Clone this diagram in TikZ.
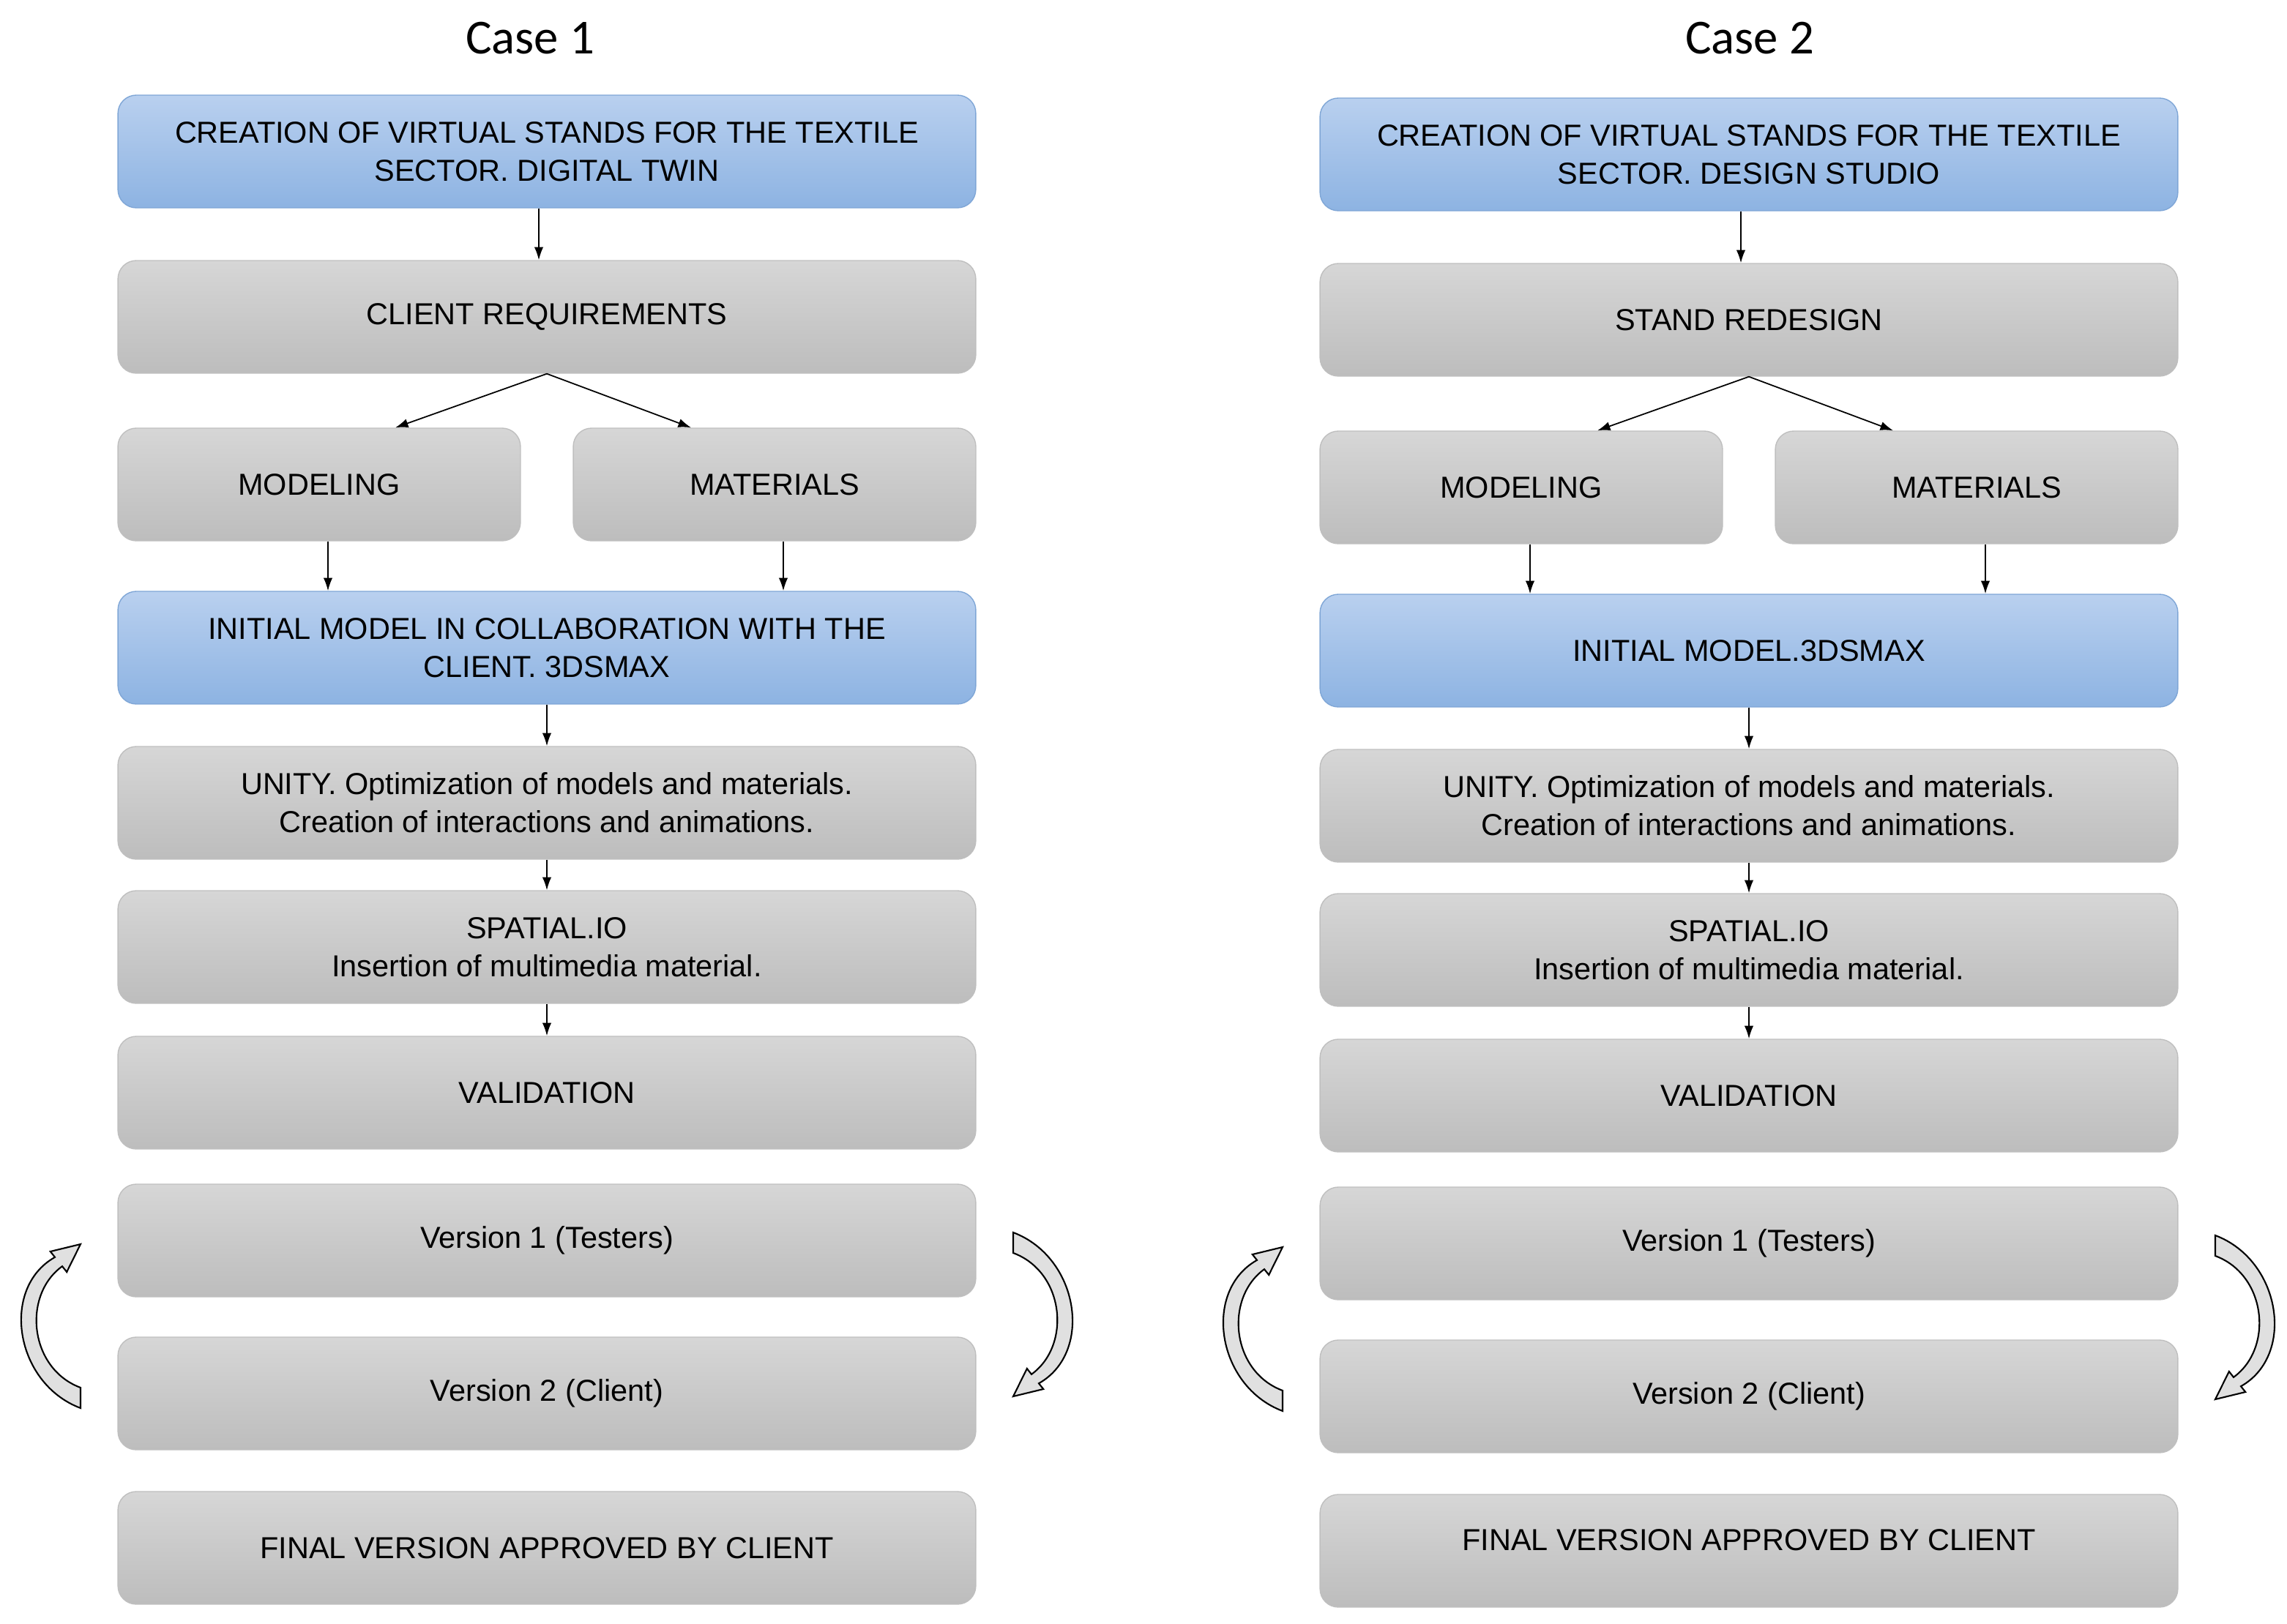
\documentclass[tikz,border=0pt]{standalone}
\usepackage{fontspec}
\setmainfont{Liberation Sans}
\newfontfamily\titlefont{Carlito}
\usetikzlibrary{arrows.meta}

\definecolor{keytop}{HTML}{B9D0EF}
\definecolor{keybottom}{HTML}{8DB3E2}
\definecolor{keyline}{HTML}{7FA6D6}

\tikzset{
  stage/.style = {draw = black!25, rounded corners = 0.25cm, top color = black!16, bottom color = black!26,
    minimum height = 1.54cm, align = center, font = \fontsize{11.8}{14.8}\selectfont, inner sep = 0pt},
  wide/.style = {stage, minimum width = 11.72cm},
  half/.style = {stage, minimum width = 5.5cm},
  keystage/.style = {draw = keyline, top color = keytop, bottom color = keybottom},
  flow/.style = {-{Latex[length=5pt, width=3.5pt]}, line width = 0.5pt},
  feedback/.style = {draw = black, line width = 0.6pt, fill = black!12}
}

% curved feedback arrow (left side, tail at the bottom)
\newcommand{\loopArrow}[1]{
  \path [feedback, #1] (55,962) .. controls (10,945) and (0,880) .. (37.5,858.9) -- (34.4,855) -- (55,850)
    -- (45.6,869) -- (42.5,865.1) .. controls (15,885) and (20,935) .. (55,948) -- cycle;
}

\begin{document}
\begin{tikzpicture}[x = 0.02cm, y = -0.02cm]
\useasboundingbox (0,0) rectangle (1562,1109.5);

% Case 1
\node [font = \titlefont\fontsize{19}{22}\selectfont] (t1) at (362,26) {Case 1};
\node [wide, keystage] (l-stand) at (373.5,103.5) {CREATION OF VIRTUAL STANDS FOR THE TEXTILE\\SECTOR. DIGITAL TWIN};
\node [wide] (l-req) at (373.5,216.5) {CLIENT REQUIREMENTS};
\node [half] (l-mod) at (218,331) {MODELING};
\node [half] (l-mat) at (529,331) {MATERIALS};
\node [wide, keystage] (l-init) at (373.5,442.5) {INITIAL MODEL IN COLLABORATION WITH THE\\CLIENT. 3DSMAX};
\node [wide] (l-unity) at (373.5,548.5) {UNITY. Optimization of models and materials.\\Creation of interactions and animations.};
\node [wide] (l-spatial) at (373.5,647) {SPATIAL.IO\\Insertion of multimedia material.};
\node [wide] (l-valid) at (373.5,746.5) {VALIDATION};
\node [wide] (l-v1) at (373.5,847.5) {Version 1 (Testers)};
\node [wide] (l-v2) at (373.5,952) {Version 2 (Client)};
\node [wide] (l-final) at (373.5,1057.5) {FINAL VERSION APPROVED BY CLIENT};

\draw [flow] ([xshift=-0.11cm]l-stand.south) -- ([xshift=-0.11cm]l-req.north);
\draw [flow] (l-req.south) -- ([xshift=1.04cm]l-mod.north);
\draw [flow] (l-req.south) -- ([xshift=-1.14cm]l-mat.north);
\draw [flow] ([xshift=0.12cm]l-mod.south) -- ([xshift=0.12cm]l-mod.south |- l-init.north);
\draw [flow] ([xshift=0.12cm]l-mat.south) -- ([xshift=0.12cm]l-mat.south |- l-init.north);
\draw [flow] (l-init.south) -- (l-unity.north);
\draw [flow] (l-unity.south) -- (l-spatial.north);
\draw [flow] (l-spatial.south) -- (l-valid.north);

\loopArrow{}
\loopArrow{rotate around = {180:(373.5,902)}}

% Case 2
\node [font = \titlefont\fontsize{19}{22}\selectfont] (t2) at (1195,26) {Case 2};
\node [wide, keystage] (r-stand) at (1194.5,105.5) {CREATION OF VIRTUAL STANDS FOR THE TEXTILE\\SECTOR. DESIGN STUDIO};
\node [wide] (r-redesign) at (1194.5,218.5) {STAND REDESIGN};
\node [half] (r-mod) at (1039,333) {MODELING};
\node [half] (r-mat) at (1350,333) {MATERIALS};
\node [wide, keystage] (r-init) at (1194.5,444.5) {INITIAL MODEL.3DSMAX};
\node [wide] (r-unity) at (1194.5,550.5) {UNITY. Optimization of models and materials.\\Creation of interactions and animations.};
\node [wide] (r-spatial) at (1194.5,649) {SPATIAL.IO\\Insertion of multimedia material.};
\node [wide] (r-valid) at (1194.5,748.5) {VALIDATION};
\node [wide] (r-v1) at (1194.5,849.5) {Version 1 (Testers)};
\node [wide] (r-v2) at (1194.5,954) {Version 2 (Client)};
\node [wide, text depth = 0.3cm] (r-final) at (1194.5,1059.5) {FINAL VERSION APPROVED BY CLIENT};

\draw [flow] ([xshift=-0.11cm]r-stand.south) -- ([xshift=-0.11cm]r-redesign.north);
\draw [flow] (r-redesign.south) -- ([xshift=1.04cm]r-mod.north);
\draw [flow] (r-redesign.south) -- ([xshift=-1.14cm]r-mat.north);
\draw [flow] ([xshift=0.12cm]r-mod.south) -- ([xshift=0.12cm]r-mod.south |- r-init.north);
\draw [flow] ([xshift=0.12cm]r-mat.south) -- ([xshift=0.12cm]r-mat.south |- r-init.north);
\draw [flow] (r-init.south) -- (r-unity.north);
\draw [flow] (r-unity.south) -- (r-spatial.north);
\draw [flow] (r-spatial.south) -- (r-valid.north);

\begin{scope}[shift = {(821,2)}]
\loopArrow{}
\loopArrow{rotate around = {180:(373.5,902)}}
\end{scope}
\end{tikzpicture}
\end{document}
